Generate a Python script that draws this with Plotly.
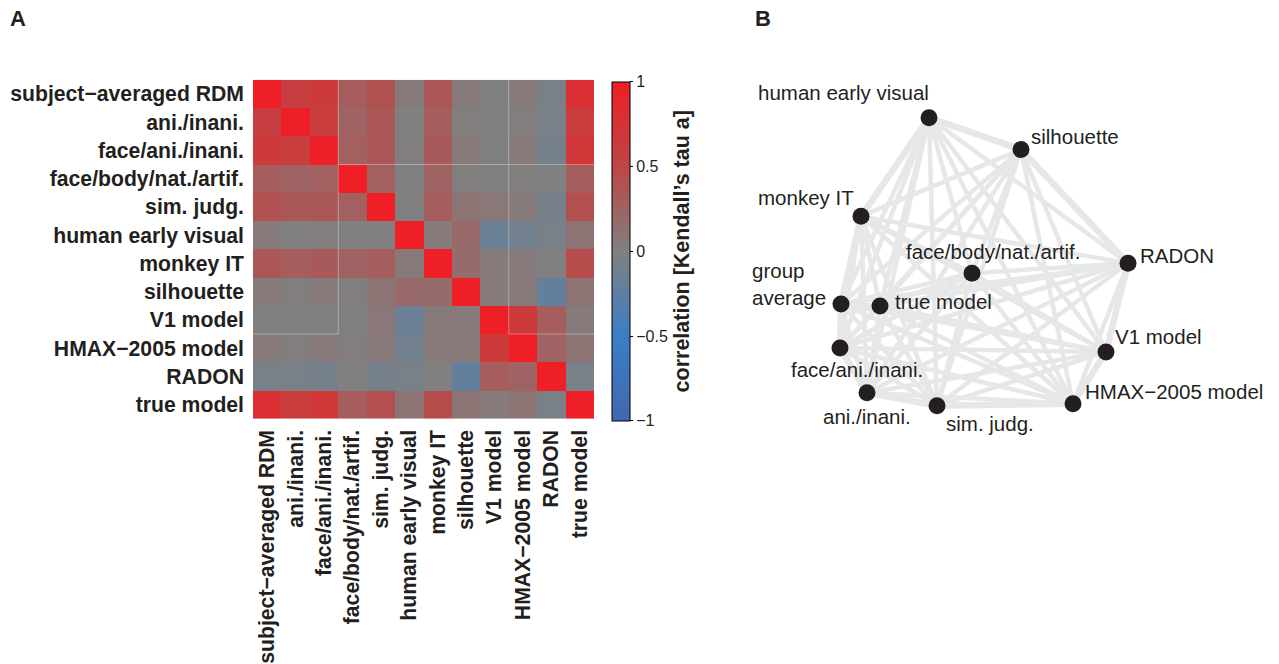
import plotly.graph_objects as go

# ---------------- data ----------------
labels = ["subject\u2212averaged RDM", "ani./inani.", "face/ani./inani.",
          "face/body/nat./artif.", "sim. judg.", "human early visual",
          "monkey IT", "silhouette", "V1 model", "HMAX\u22122005 model",
          "RADON", "true model"]

corr = [
    [1.00, 0.60, 0.65, 0.30, 0.40, 0.05, 0.35, 0.05, 0.00, 0.05, -0.05, 0.80],
    [0.60, 1.00, 0.62, 0.25, 0.35, 0.00, 0.30, 0.02, 0.00, 0.02, -0.05, 0.62],
    [0.65, 0.62, 1.00, 0.28, 0.35, 0.02, 0.33, 0.05, 0.00, 0.05, -0.08, 0.70],
    [0.30, 0.25, 0.28, 1.00, 0.28, 0.00, 0.25, 0.02, 0.00, 0.02, 0.00, 0.30],
    [0.40, 0.35, 0.35, 0.28, 1.00, 0.00, 0.30, 0.10, 0.08, 0.05, -0.08, 0.42],
    [0.05, 0.00, 0.02, 0.00, 0.00, 1.00, 0.05, 0.20, -0.15, -0.10, -0.05, 0.10],
    [0.35, 0.30, 0.33, 0.25, 0.30, 0.05, 1.00, 0.18, 0.05, 0.05, 0.00, 0.45],
    [0.05, 0.02, 0.05, 0.02, 0.10, 0.20, 0.18, 1.00, 0.05, 0.05, -0.20, 0.10],
    [0.00, 0.00, 0.00, 0.00, 0.08, -0.15, 0.05, 0.05, 1.00, 0.65, 0.30, 0.05],
    [0.05, 0.02, 0.05, 0.02, 0.05, -0.10, 0.05, 0.05, 0.65, 1.00, 0.25, 0.10],
    [-0.05, -0.05, -0.08, 0.00, -0.08, -0.05, 0.00, -0.20, 0.30, 0.25, 1.00, -0.05],
    [0.80, 0.62, 0.70, 0.30, 0.42, 0.10, 0.45, 0.10, 0.05, 0.10, -0.05, 1.00],
]

cbar_tickvals = [1, 0.5, 0, -0.5, -1]
cbar_ticktext = ["1", "0.5", "0", "\u22120.5", "\u22121"]

# MDS arrangement (panel B)
node_names = ["human early visual", "silhouette", "monkey IT",
              "face/body/nat./artif.", "RADON", "group<br>average",
              "true model", "face/ani./inani.", "V1 model", "ani./inani.",
              "sim. judg.", "HMAX\u22122005 model"]
mds_x = [929, 1021, 861, 972, 1128, 841, 880, 840, 1106, 867, 937, 1073]
mds_y = [118, 150, 217, 274, 264, 305, 307, 349, 353, 394, 407, 405]

# ---------------- figure ----------------
W, H = 1279, 664
FONT = "Liberation Sans, Arial, sans-serif"
TXT = "#231f20"
LBL = 20.5
HM_LBL = 21.2

fig = go.Figure()

n = len(labels)
fig.add_trace(go.Heatmap(
    z=corr, x=list(range(n)), y=list(range(n)),
    zmin=-1, zmax=1,
    colorscale=[[0.0, "#4068b0"], [0.25, "#3b7ec6"], [0.5, "#808080"],
                [0.75, "#bd4646"], [1.0, "#ee1f26"]],
    xaxis="x", yaxis="y", showscale=True,
    colorbar=dict(
        x=612 / W, xanchor="left", xpad=0, ypad=0,
        y=1 - 82 / H, yanchor="top", len=(422 - 82) / H, lenmode="fraction",
        thickness=18, outlinecolor="black", outlinewidth=1,
        tickvals=cbar_tickvals, ticktext=cbar_ticktext,
        ticks="outside", ticklen=3, tickcolor="black",
        tickfont=dict(family=FONT, size=16, color=TXT),
        title=dict(text="<b>correlation [Kendall\u2019s tau a]</b>", side="right",
                   font=dict(family=FONT, size=21.5, color=TXT)),
    ),
    hoverinfo="skip",
))

# edges of the complete graph
m = len(mds_x)
hull = [0, 1, 4, 8, 11, 10, 9, 7, 5, 2]
hull_pairs = set()
for k in range(len(hull)):
    a, b = hull[k], hull[(k + 1) % len(hull)]
    hull_pairs.add((min(a, b), max(a, b)))
ex_thin, ey_thin, ex_thick, ey_thick = [], [], [], []
for i in range(m):
    for j in range(i + 1, m):
        if (i, j) in hull_pairs:
            ex_thick += [mds_x[i], mds_x[j], None]
            ey_thick += [mds_y[i], mds_y[j], None]
        else:
            ex_thin += [mds_x[i], mds_x[j], None]
            ey_thin += [mds_y[i], mds_y[j], None]
for ex, ey, w in [(ex_thin, ey_thin, 4.5), (ex_thick, ey_thick, 6.5)]:
    fig.add_trace(go.Scatter(x=ex, y=ey, mode="lines",
                             line=dict(color="#e6e7e8", width=w),
                             xaxis="x2", yaxis="y2", hoverinfo="skip",
                             showlegend=False))
fig.add_trace(go.Scatter(x=mds_x, y=mds_y, mode="markers",
                         marker=dict(size=17, color=TXT),
                         xaxis="x2", yaxis="y2", showlegend=False,
                         hoverinfo="skip"))

# label placement for nodes (xanchor, xshift, yshift)
label_style = {
    "human early visual": ("right", 2, 25),
    "silhouette": ("left", 8, 13),
    "monkey IT": ("right", -5, 19),
    "face/body/nat./artif.": ("center", 21, 22),
    "RADON": ("left", 10, 8),
    "group<br>average": ("right", -13, 20),
    "true model": ("left", 13, 5),
    "face/ani./inani.": ("center", 17, -22),
    "V1 model": ("left", 7, 15),
    "ani./inani.": ("center", 0, -24),
    "sim. judg.": ("left", 7, -18),
    "HMAX\u22122005 model": ("left", 10, 12),
}
annotations = []
for name, x, y in zip(node_names, mds_x, mds_y):
    xa, xs, ys = label_style[name]
    annotations.append(dict(
        x=x, y=y, xref="x2", yref="y2", text=name, showarrow=False,
        xanchor=xa, yanchor="middle", xshift=xs, yshift=ys, align="left",
        font=dict(family=FONT, size=LBL, color=TXT)))

annotations += [
    dict(x=8 / W, y=1 - 19 / H, xref="paper", yref="paper", text="<b>A</b>",
         showarrow=False, xanchor="left", yanchor="middle",
         font=dict(family=FONT, size=22, color=TXT)),
    dict(x=753 / W, y=1 - 19 / H, xref="paper", yref="paper", text="<b>B</b>",
         showarrow=False, xanchor="left", yanchor="middle",
         font=dict(family=FONT, size=22, color=TXT)),
]

# faint block outlines over the matrix
line_style = dict(color="rgba(255,255,255,0.35)", width=1)
shapes = [
    dict(type="line", xref="x", yref="y", x0=2.5, x1=2.5, y0=-0.5, y1=8.5, line=line_style),
    dict(type="line", xref="x", yref="y", x0=8.5, x1=8.5, y0=-0.5, y1=8.5, line=line_style),
    dict(type="line", xref="x", yref="y", x0=2.5, x1=11.5, y0=2.5, y1=2.5, line=line_style),
    dict(type="line", xref="x", yref="y", x0=-0.5, x1=2.5, y0=8.5, y1=8.5, line=line_style),
    dict(type="line", xref="x", yref="y", x0=8.5, x1=11.5, y0=8.5, y1=8.5, line=line_style),
]

bold_labels = ["<b>%s</b>" % s for s in labels]
fig.update_layout(
    width=W, height=H,
    margin=dict(l=0, r=0, t=0, b=0),
    paper_bgcolor="white", plot_bgcolor="white",
    showlegend=False,
    xaxis=dict(domain=[253 / W, 594 / W], range=[-0.5, n - 0.5],
               tickvals=list(range(n)), ticktext=bold_labels, tickangle=-90,
               side="bottom", ticks="", showgrid=False, zeroline=False,
               showline=False, ticklabelstandoff=6,
               tickfont=dict(family=FONT, size=HM_LBL, color=TXT)),
    yaxis=dict(domain=[1 - 420 / H, 1 - 80 / H], range=[n - 0.5, -0.5],
               tickvals=list(range(n)), ticktext=bold_labels,
               ticks="", showgrid=False, zeroline=False, showline=False,
               ticklabelstandoff=8,
               tickfont=dict(family=FONT, size=HM_LBL, color=TXT)),
    xaxis2=dict(domain=[640 / W, 1.0], range=[640, W], visible=False,
                anchor="y2"),
    yaxis2=dict(domain=[0, 1], range=[H, 0], visible=False, anchor="x2"),
    annotations=annotations,
    shapes=shapes,
)

fig.write_html("out.html")
